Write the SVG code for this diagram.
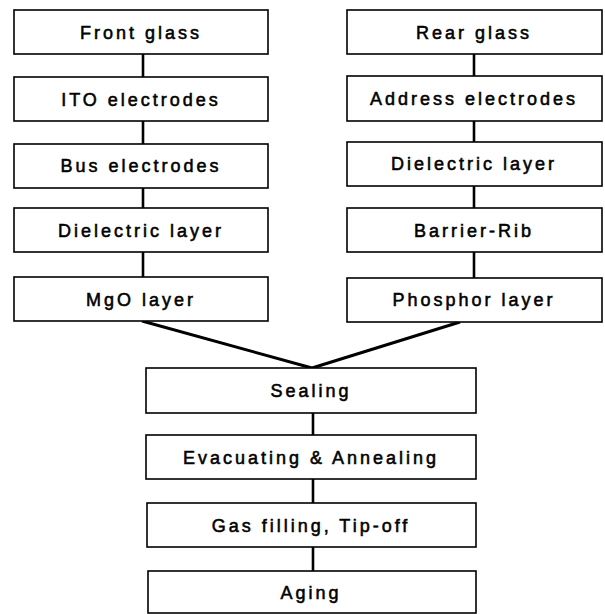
<svg xmlns="http://www.w3.org/2000/svg" width="605" height="614" viewBox="0 0 605 614">
<style>
rect.b{fill:#fff;stroke:#000;stroke-width:1.6}
text{font-family:"Liberation Sans",Arial,sans-serif;font-size:18px;font-weight:normal;letter-spacing:3px;text-anchor:middle;fill:#000;stroke:#000;stroke-width:0.55}
.c line{stroke:#000;stroke-width:2.6}
.v line{stroke:#000;stroke-width:3}
</style>
<rect width="605" height="614" fill="#fff"/>
<g class="c" id="connectors">
<line x1="143" y1="54" x2="143" y2="77"/>
<line x1="143" y1="121" x2="143" y2="144"/>
<line x1="143" y1="188" x2="143" y2="208"/>
<line x1="143" y1="252" x2="143" y2="277"/>
<line x1="474" y1="54" x2="474" y2="76"/>
<line x1="474" y1="121" x2="474" y2="142"/>
<line x1="474" y1="186" x2="474" y2="208"/>
<line x1="474" y1="252" x2="474" y2="278"/>
<line x1="313" y1="413" x2="313" y2="435"/>
<line x1="313" y1="479" x2="313" y2="503"/>
<line x1="313" y1="547" x2="313" y2="571"/>
</g>
<g class="v" id="merge">
<line x1="142" y1="321" x2="312" y2="368"/>
<line x1="460" y1="322" x2="312" y2="368"/>
</g>
<g id="front-glass"><rect class="b" x="14" y="10" width="254" height="44"/><text x="141" y="39">Front glass</text></g>
<g id="ito"><rect class="b" x="14" y="77" width="254" height="44"/><text x="141" y="106">ITO electrodes</text></g>
<g id="bus"><rect class="b" x="14" y="144" width="254" height="44"/><text x="141" y="172">Bus electrodes</text></g>
<g id="dielectric-front"><rect class="b" x="14" y="208" width="254" height="44"/><text x="141" y="237">Dielectric layer</text></g>
<g id="mgo"><rect class="b" x="14" y="277" width="254" height="44"/><text x="141" y="306">MgO layer</text></g>
<g id="rear-glass"><rect class="b" x="347" y="10" width="255" height="44"/><text x="474" y="39">Rear glass</text></g>
<g id="address"><rect class="b" x="347" y="76" width="255" height="45"/><text x="474" y="105">Address electrodes</text></g>
<g id="dielectric-rear"><rect class="b" x="347" y="142" width="255" height="44"/><text x="474" y="170">Dielectric layer</text></g>
<g id="barrier"><rect class="b" x="347" y="208" width="255" height="44"/><text x="474" y="237">Barrier-Rib</text></g>
<g id="phosphor"><rect class="b" x="347" y="278" width="255" height="44"/><text x="474" y="306">Phosphor layer</text></g>
<g id="sealing"><rect class="b" x="146" y="368" width="330" height="45"/><text x="311" y="397">Sealing</text></g>
<g id="evacuating"><rect class="b" x="146" y="435" width="330" height="44"/><text x="311" y="464">Evacuating &amp; Annealing</text></g>
<g id="gas"><rect class="b" x="147" y="503" width="329" height="44"/><text x="311" y="532">Gas filling, Tip-off</text></g>
<g id="aging"><rect class="b" x="148" y="571" width="328" height="42"/><text x="311" y="599">Aging</text></g>
</svg>
